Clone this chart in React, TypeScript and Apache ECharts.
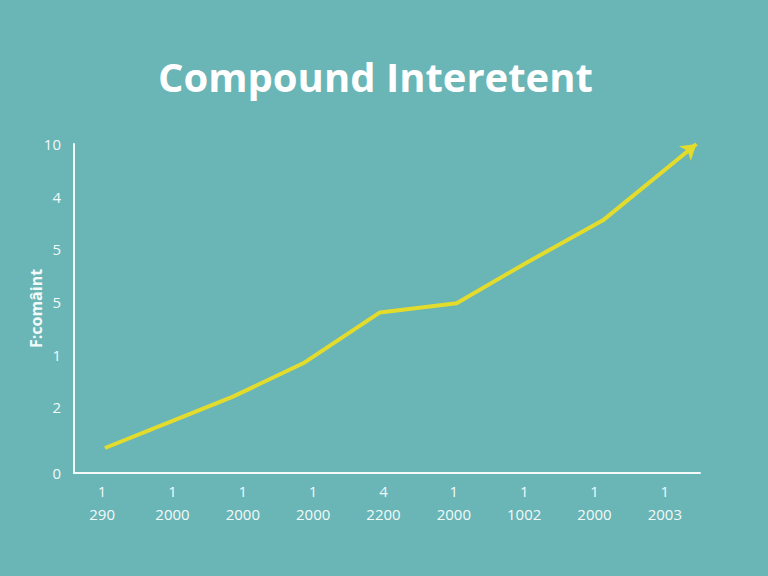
import React, { useEffect, useRef } from "react";
import * as echarts from "echarts";

const titleText = "Compound Interetent";
const yAxisName = "F:comâint";

// x tick positions (axis units) and their two-row labels
const xTickValues = [4, 14, 24, 34, 44, 54, 64, 74, 84];
const xTickTop = ["1", "1", "1", "1", "4", "1", "1", "1", "1"];
const xTickBottom = ["290", "2000", "2000", "2000", "2200", "2000", "1002", "2000", "2003"];

// y tick positions (axis units) and their labels
const yTickValues = [0, 5, 9, 13, 17, 21, 25];
const yTickLabels = ["0", "2", "1", "5", "5", "4", "10"];

// line series points (axis units)
const seriesX = [4.4, 14.2, 22.6, 32.8, 43.5, 54.4, 64.4, 75.2, 88.5];
const seriesY = [1.9, 4.0, 5.8, 8.4, 12.2, 12.9, 16.0, 19.2, 25.0];

const BG = "#6ab5b6";
const FG = "#f2fafa";
const LINE = "#e4dc2c";

export default function App() {
  const ref = useRef<HTMLDivElement>(null);
  useEffect(() => {
    if (!ref.current) return;
    const chart = echarts.init(ref.current, undefined, { renderer: "svg" });
    const n = seriesX.length;
    const dx = seriesX[n - 1] - seriesX[n - 2];
    const dy = seriesY[n - 1] - seriesY[n - 2];
    // approximate pixel-space angle for the arrow head
    const ang = (Math.atan2(dy * 13.16, dx * 7.034) * 180) / Math.PI - 90;
    const data = seriesX.map((x, i) =>
      i === n - 1
        ? { value: [x, seriesY[i]], symbol: "arrow", symbolSize: [14, 15], symbolRotate: ang }
        : { value: [x, seriesY[i]], symbol: "none" }
    );
    chart.setOption({
      animation: false,
      backgroundColor: BG,
      title: {
        text: titleText,
        left: 153,
        top: 51,
        textStyle: {
          color: "#ffffff",
          fontSize: 40,
          fontWeight: "bold",
          fontFamily: "Open Sans",
        },
      },
      grid: { left: 74, right: 68, top: 144, bottom: 103 },
      xAxis: {
        type: "value",
        min: 0,
        max: 89,
        interval: 1,
        splitLine: { show: false },
        axisTick: { show: false },
        axisLine: { show: true, lineStyle: { color: FG, width: 2 } },
        axisLabel: {
          color: FG,
          fontSize: 15,
          fontFamily: "Open Sans",
          lineHeight: 23,
          margin: 6,
          showMinLabel: true,
          showMaxLabel: true,
          formatter: (v: number) => {
            const i = xTickValues.indexOf(Math.round(v));
            return i >= 0 && Math.abs(v - xTickValues[i]) < 1e-6
              ? xTickTop[i] + "\n" + xTickBottom[i]
              : "";
          },
        },
      },
      yAxis: {
        type: "value",
        min: 0,
        max: 25,
        interval: 1,
        name: yAxisName,
        nameLocation: "middle",
        nameGap: 30,
        nameRotate: 90,
        nameMoveOverlap: false,
        nameTextStyle: {
          color: FG,
          fontSize: 16,
          fontWeight: "bold",
          fontFamily: "Open Sans",
        },
        splitLine: { show: false },
        axisTick: { show: false },
        axisLine: { show: true, lineStyle: { color: FG, width: 2 } },
        axisLabel: {
          color: FG,
          fontSize: 15,
          fontFamily: "Open Sans",
          margin: 13,
          formatter: (v: number) => {
            const i = yTickValues.indexOf(Math.round(v));
            return i >= 0 && Math.abs(v - yTickValues[i]) < 1e-6 ? yTickLabels[i] : "";
          },
        },
      },
      series: [
        {
          type: "line",
          data,
          clip: false,
          showSymbol: true,
          lineStyle: { color: LINE, width: 4 },
          itemStyle: { color: LINE },
        },
      ],
    });
    return () => chart.dispose();
  }, []);
  return <div ref={ref} style={{ width: 768, height: 576, position: "absolute", left: 0, top: 0 }} />;
}
